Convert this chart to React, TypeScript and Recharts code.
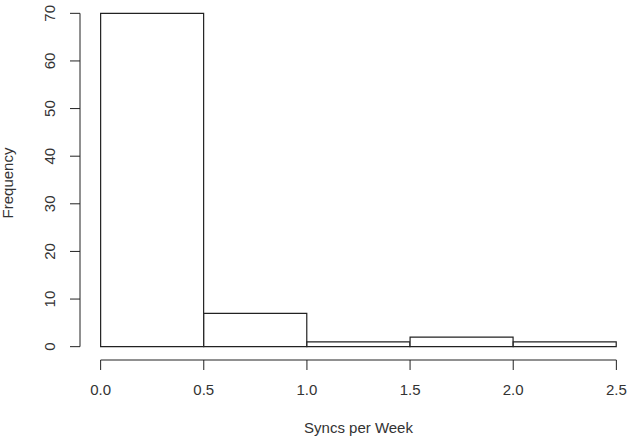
import { BarChart, Bar, XAxis, YAxis, ReferenceLine, Label } from 'recharts'

// histogram bins (R hist output)
const binStarts = [0, 0.5, 1.0, 1.5, 2.0]
const binEnds = [0.5, 1.0, 1.5, 2.0, 2.5]
const frequencies = [70, 7, 1, 2, 1]

const xTicks = [0, 0.5, 1.0, 1.5, 2.0, 2.5]
const yTicks = [0, 10, 20, 30, 40, 50, 60, 70]

// R's default 4% axis extension
const X_DOMAIN: [number, number] = [-0.1, 2.6]
const Y_DOMAIN: [number, number] = [-2.8, 72.8]

const INK = '#222'
const TEXT = '#333'
const FONT = '"Liberation Sans", Arial, sans-serif'
const FONT_SIZE = 15

const data = binStarts.map((lo, i) => ({
  mid: (lo + binEnds[i]) / 2,
  count: frequencies[i],
}))

const YTick = ({ x, y, payload }: any) => (
  <text
    x={x}
    y={y}
    transform={`rotate(-90, ${x}, ${y})`}
    textAnchor="middle"
    fill={TEXT}
    fontSize={FONT_SIZE}
    fontFamily={FONT}
  >
    {payload.value}
  </text>
)

export default function App() {
  return (
    <div style={{ position: 'absolute', left: 0, top: 0, background: '#fff' }}>
      <BarChart
        width={632}
        height={446}
        data={data}
        margin={{ top: 0, right: -5, bottom: 56, left: 0 }}
        barCategoryGap={0}
        barGap={0}
        style={{ fontFamily: FONT }}
      >
        <XAxis
          dataKey="mid"
          type="number"
          domain={X_DOMAIN}
          ticks={xTicks}
          interval={0}
          height={30}
          axisLine={false}
          tickLine={{ stroke: INK }}
          tickSize={10}
          tickMargin={14}
          tick={{ fill: TEXT, fontSize: FONT_SIZE, fontFamily: FONT }}
          tickFormatter={(v: number) => v.toFixed(1)}
        >
          <Label
            content={({ viewBox }: any) => (
              <text
                x={viewBox.x + viewBox.width / 2}
                y={viewBox.y + 73}
                textAnchor="middle"
                fill={TEXT}
                fontSize={FONT_SIZE}
                fontFamily={FONT}
              >
                Syncs per Week
              </text>
            )}
          />
        </XAxis>
        <YAxis
          type="number"
          domain={Y_DOMAIN}
          ticks={yTicks}
          interval={0}
          width={80}
          axisLine={false}
          tickLine={{ stroke: INK }}
          tickSize={10}
          tickMargin={15}
          tick={<YTick />}
        >
          <Label
            content={({ viewBox }: any) => {
              const cy = viewBox.y + viewBox.height / 2 + 3
              return (
                <text
                  x={13}
                  y={cy}
                  transform={`rotate(-90, 13, ${cy})`}
                  textAnchor="middle"
                  fill={TEXT}
                  fontSize={FONT_SIZE}
                  fontFamily={FONT}
                >
                  Frequency
                </text>
              )
            }}
          />
        </YAxis>
        {/* detached R-style axis lines */}
        <ReferenceLine
          segment={[{ x: xTicks[0], y: Y_DOMAIN[0] }, { x: xTicks[xTicks.length - 1], y: Y_DOMAIN[0] }]}
          stroke={INK}
          ifOverflow="visible"
        />
        <ReferenceLine
          segment={[{ x: X_DOMAIN[0], y: yTicks[0] }, { x: X_DOMAIN[0], y: yTicks[yTicks.length - 1] }]}
          stroke={INK}
          ifOverflow="visible"
        />
        <Bar dataKey="count" fill="#fff" stroke={INK} strokeWidth={1.2} isAnimationActive={false} />
      </BarChart>
    </div>
  )
}
